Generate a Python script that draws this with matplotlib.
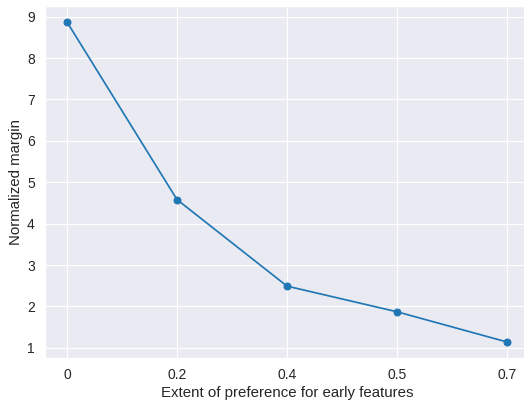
import matplotlib
matplotlib.use("Agg")
import matplotlib.pyplot as plt
import seaborn as sns

sns.set_theme(style="darkgrid")
plt.rcParams["font.family"] = ["Liberation Sans", "DejaVu Sans"]

extent = ["0", "0.2", "0.4", "0.5", "0.7"]
margin = [8.87, 4.58, 2.49, 1.87, 1.14]

dpi = 82
fig = plt.figure(figsize=(524 / dpi, 403 / dpi), dpi=dpi)
ax = fig.add_axes([45 / 524, 45 / 403, 484 / 524, 352 / 403])

ax.plot(range(len(extent)), margin, marker="o", color="#1f77b4")
ax.set_xticks(range(len(extent)))
ax.set_xticklabels(extent)
ax.set_yticks(range(1, 10))
ax.tick_params(labelsize=12.2, pad=3)
ax.set_xlabel("Extent of preference for early features", fontsize=13.2, labelpad=3)
ax.set_ylabel("Normalized margin", fontsize=13.2, labelpad=3)

fig.savefig("out.png", dpi=dpi)
